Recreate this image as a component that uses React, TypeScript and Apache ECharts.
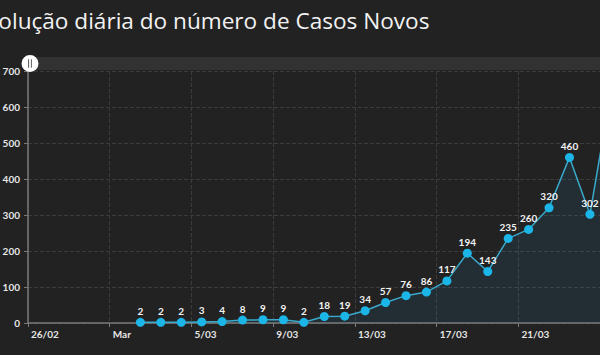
import React, { useEffect, useRef } from "react";
import * as echarts from "echarts";

const titleText = "Evolução diária do número de Casos Novos";

const categories = [
  "26/02", "27/02", "28/02", "29/02", "Mar",
  "2/03", "3/03", "4/03", "5/03", "6/03", "7/03", "8/03", "9/03", "10/03",
  "11/03", "12/03", "13/03", "14/03", "15/03", "16/03", "17/03", "18/03",
  "19/03", "20/03", "21/03", "22/03", "23/03", "24/03", "25/03", "26/03",
];

// day boundaries (one more than the categories) used for the tick labels
const tickDays = [...categories, "27/03"];

const newCases: (number | null)[] = [
  null, null, null, null, null,
  2, 2, 2, 3, 4, 8, 9, 9, 2,
  18, 19, 34, 57, 76, 86, 117, 194,
  143, 235, 260, 320, 460, 302, 633, 549,
];

// points whose value labels lie beyond the visible window
const hiddenLabelFrom = 28;

const yTicks = { min: 0, max: 700, interval: 100 };

const handleIcon =
  "path://M10,0A10,10,0,1,1,10,20A10,10,0,1,1,10,0Z" +
  "M8,5L8,15L8.9,15L8.9,5Z" +
  "M11.1,5L11.1,15L12,15L12,5Z";

export default function App() {
  const ref = useRef<HTMLDivElement>(null);

  useEffect(() => {
    if (!ref.current) return;
    const chart = echarts.init(ref.current, undefined, { renderer: "svg" });
    const font = "Lato";
    const seriesData = newCases.map((v, i) =>
      i >= hiddenLabelFrom ? { value: v, label: { show: false } } : v
    );
    chart.setOption({
      animation: false,
      backgroundColor: "#222222",
      textStyle: { fontFamily: font },
      title: {
        text: titleText,
        left: 9.5,
        top: 3.5,
        textStyle: {
          color: "#f2f2f2",
          fontSize: 22.6,
          fontWeight: "normal",
          fontFamily: "Open Sans",
        },
      },
      grid: { left: 68, right: 39, top: 71, bottom: 32 },
      dataZoom: [
        {
          type: "slider",
          xAxisIndex: 0,
          start: 0,
          end: 100,
          left: 68,
          right: 39,
          top: 57,
          height: 13,
          showDetail: false,
          showDataShadow: false,
          brushSelect: false,
          moveHandleSize: 0,
          backgroundColor: "#2c2c2c",
          fillerColor: "rgba(255,255,255,0.03)",
          borderColor: "transparent",
          handleIcon: handleIcon,
          handleSize: 17,
          handleStyle: { color: "#ffffff", borderColor: "#ffffff", borderWidth: 0 },
          emphasis: { handleStyle: { color: "#ffffff" } },
        },
      ],
      xAxis: [
        {
          type: "category",
          data: categories,
          boundaryGap: true,
          position: "bottom",
          axisLine: { show: false },
          axisTick: { show: false },
          axisLabel: { show: false },
          splitLine: { show: false },
        },
        {
          type: "category",
          data: tickDays,
          boundaryGap: false,
          position: "bottom",
          offset: 0,
          axisLine: { lineStyle: { color: "#7a7a7a", width: 1.5 } },
          axisTick: { show: true, interval: 3, length: 4, lineStyle: { color: "#7a7a7a" } },
          axisLabel: {
            interval: 3,
            align: "left",
            padding: [0, 0, 0, 3],
            color: "#e6e6e6",
            fontSize: 10,
            fontWeight: "bold",
            margin: 6,
            fontFamily: font,
          },
          splitLine: {
            show: true,
            interval: 3,
            lineStyle: { color: "#3c3c3c", type: "dashed" },
          },
        },
      ],
      yAxis: {
        type: "value",
        min: yTicks.min,
        max: yTicks.max,
        interval: yTicks.interval,
        axisLine: { show: true, lineStyle: { color: "#7a7a7a", width: 1.5 } },
        axisTick: { show: true, length: 4, lineStyle: { color: "#7a7a7a" } },
        axisLabel: {
          color: "#e6e6e6",
          fontSize: 10,
          fontWeight: "bold",
          margin: 8,
          fontFamily: font,
        },
        splitLine: { lineStyle: { color: "#3c3c3c", type: "dashed" } },
      },
      series: [
        {
          type: "line",
          xAxisIndex: 0,
          data: seriesData,
          symbol: "circle",
          symbolSize: 9,
          connectNulls: false,
          lineStyle: { color: "#3aa9cc", width: 1.5 },
          itemStyle: { color: "#1cb5e8" },
          areaStyle: { color: "rgba(41,182,230,0.13)" },
          label: {
            show: true,
            position: "top",
            distance: 2,
            color: "#f2f2f2",
            fontSize: 10,
            fontWeight: "bold",
            fontFamily: font,
          },
        },
      ],
    });
    return () => chart.dispose();
  }, []);

  return (
    <div
      style={{
        position: "fixed",
        left: 0,
        top: 0,
        width: 600,
        height: 355,
        overflow: "hidden",
        background: "#222222",
      }}
    >
      <div
        ref={ref}
        style={{ position: "absolute", left: -40, top: 0, width: 720, height: 355 }}
      />
    </div>
  );
}
